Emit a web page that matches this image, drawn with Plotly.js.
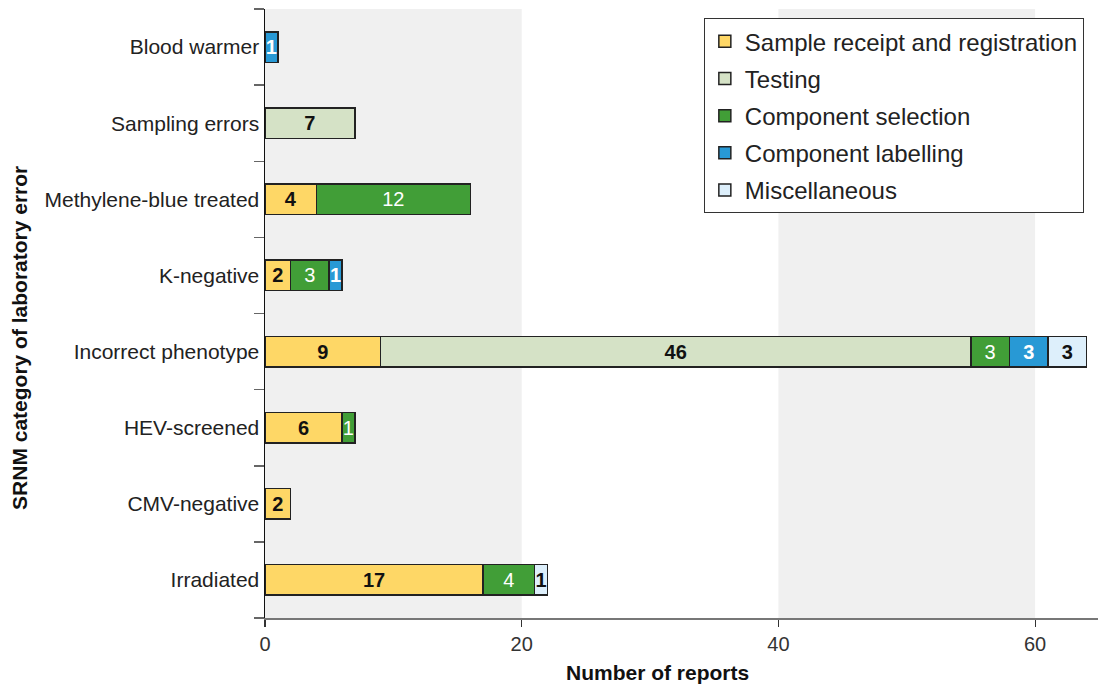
<!DOCTYPE html>
<html><head><meta charset="utf-8">
<script src="https://cdn.plot.ly/plotly-3.0.1.min.js"></script>
<style>html,body{margin:0;padding:0;background:#fff}#chart{width:1098px;height:686px}</style>
</head><body><div id="chart"></div>
<script>
var categories = ["Irradiated","CMV-negative","HEV-screened","Incorrect phenotype","K-negative","Methylene-blue treated","Sampling errors","Blood warmer"];
var sampleReceipt = [17, 2, 6, 9, 2, 4, null, null];
var testing = [null, null, null, 46, null, null, 7, null];
var componentSelection = [4, null, 1, 3, 3, 12, null, null];
var componentLabelling = [null, null, null, 3, 1, null, null, 1];
var miscellaneous = [1, null, null, 3, null, null, null, null];
var xTicks = [0, 20, 40, 60];

var FONT = "Liberation Sans, Arial, Helvetica, sans-serif";
function tr(name, vals, color, txtColor, bold) {
  return {
    type: "bar", orientation: "h", name: name, x: vals, y: categories,
    legendgroup: name,
    marker: {color: color, line: {color: "#222", width: 1.5}},
    texttemplate: bold ? "<b>%{x}</b>" : "%{x}",
    textposition: "inside", insidetextanchor: "middle", textangle: 0,
    textfont: {family: FONT, size: 20, color: txtColor},
    hoverinfo: "x+name"
  };
}
var data = [
  tr("Sample receipt and registration", sampleReceipt, "#fed766", "#111", true),
  tr("Testing", testing, "#d5e2c6", "#111", true),
  tr("Component selection", componentSelection, "#419e37", "#fff", false),
  tr("Component labelling", componentLabelling, "#2899d5", "#fff", true),
  tr("Miscellaneous", miscellaneous, "#ddeffb", "#111", true)
];
var layout = {
  width: 1098, height: 686,
  margin: {l: 265, r: 0, t: 9, b: 68},
  paper_bgcolor: "#fff", plot_bgcolor: "#fff",
  barmode: "stack", bargap: 0.6,
  font: {family: FONT, color: "#222"},
  uniformtext: {mode: "show", minsize: 20},
  shapes: [
    {type: "rect", xref: "x", yref: "paper", x0: 0, x1: 20, y0: 0, y1: 1, fillcolor: "#f0f0f0", line: {width: 0}, layer: "below"},
    {type: "rect", xref: "x", yref: "paper", x0: 40, x1: 60, y0: 0, y1: 1, fillcolor: "#f0f0f0", line: {width: 0}, layer: "below"}
  ],
  annotations: [
    {text: "<b>Number of reports</b>", xref: "paper", yref: "paper", x: 0.4706, y: -0.09,
     xanchor: "center", yanchor: "middle", showarrow: false,
     font: {family: FONT, size: 21, color: "#111"}},
    {text: "<b>SRNM category of laboratory error</b>", xref: "paper", yref: "paper", x: -0.294, y: 0.46,
     xanchor: "center", yanchor: "middle", showarrow: false, textangle: -90,
     font: {family: FONT, size: 21, color: "#111"}}
  ],
  xaxis: {
    range: [0, 64.9], tickvals: xTicks, ticktext: xTicks.map(String),
    showgrid: false, zeroline: false, showline: true, linecolor: "#777", linewidth: 1.5,
    ticks: "outside", ticklen: 7, tickcolor: "#333", tickwidth: 1.2,
    tickfont: {family: FONT, size: 20, color: "#333"}
  },
  yaxis: {
    type: "category", categoryorder: "array", categoryarray: categories,
    showgrid: false, zeroline: false, showline: true, linecolor: "#111", linewidth: 1.5,
    ticks: "outside", tickson: "boundaries", ticklen: 10, tickcolor: "#666", tickwidth: 1.5,
    tickfont: {family: FONT, size: 21, color: "#222"}
  },
  legend: {
    x: 0.983, xanchor: "right", y: 0.985, yanchor: "top",
    traceorder: "grouped", tracegroupgap: 3, bgcolor: "#fff", bordercolor: "#333", borderwidth: 1,
    font: {family: FONT, size: 24, color: "#222"}
  },
  showlegend: true
};
Plotly.newPlot("chart", data, layout, {displayModeBar: false, staticPlot: true});
</script></body></html>
